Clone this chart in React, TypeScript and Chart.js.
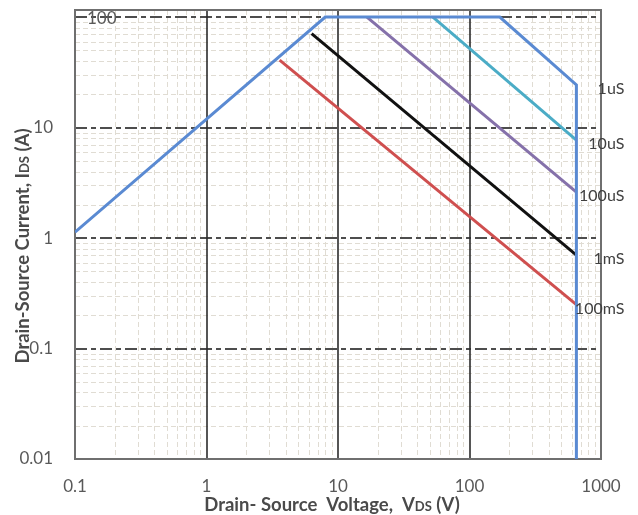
import React, { useEffect, useRef } from 'react';
import { Chart, registerables } from 'chart.js';
Chart.register(...registerables);

// Tick labels
const xTickLabels = [0.1, 1, 10, 100, 1000];
const yTickLabels = [0.01, 0.1, 1, 10, 100];

// SOA outline (1uS)
const soaV = [0.1, 8, 170, 650, 650];
const soaI = [1.13, 100, 100, 24.3, 0.01];
// 10uS
const us10V = [52.7, 650];
const us10I = [100, 7.7];
// 100uS
const us100V = [16.6, 650];
const us100I = [100, 2.6];
// 1mS
const ms1V = [6.3, 650];
const ms1I = [71, 0.7];
// 100mS
const ms100V = [3.6, 650];
const ms100I = [40.8, 0.25];

const seriesNames = ['1uS', '10uS', '100uS', '1mS', '100mS'];
const seriesColors = ['#5a8ad2', '#4bacc6', '#8571aa', '#111111', '#cf4f4f'];

const X_MIN = 0.1, X_MAX = 1000, Y_MIN = 0.01, Y_MAX = 116;
const FONT = 'Lato, "Open Sans", sans-serif';

const toPts = (xs: number[], ys: number[]) => xs.map((v, i) => ({ x: v, y: ys[i] }));
const isLabel = (v: number, list: number[]) => list.some((l) => Math.abs(Math.log10(v) - Math.log10(l)) < 1e-6);

const gridPlugin = {
  id: 'customGrid',
  beforeDatasetsDraw(chart: any) {
    const { ctx, chartArea: a, scales } = chart;
    const x = scales.x, y = scales.y;
    ctx.save();
    ctx.beginPath();
    ctx.rect(a.left, a.top, a.right - a.left, a.bottom - a.top);
    ctx.clip();
    // minor lines
    ctx.lineWidth = 1;
    ctx.strokeStyle = '#e0dcd3';
    ctx.setLineDash([5, 3]);
    for (let e = -1; e < 3; e++) {
      for (let m = 2; m <= 9; m++) {
        const v = m * Math.pow(10, e);
        const px = Math.round(x.getPixelForValue(v)) + 0.5;
        ctx.beginPath(); ctx.moveTo(px, a.top); ctx.lineTo(px, a.bottom); ctx.stroke();
      }
    }
    for (let e = -2; e < 3; e++) {
      for (let m = 2; m <= 9; m++) {
        const v = m * Math.pow(10, e);
        if (v > Y_MAX) continue;
        const py = Math.round(y.getPixelForValue(v)) + 0.5;
        ctx.beginPath(); ctx.moveTo(a.left, py); ctx.lineTo(a.right, py); ctx.stroke();
      }
    }
    // major horizontal dashed
    ctx.strokeStyle = '#4d4d4d';
    ctx.lineWidth = 2;
    ctx.setLineDash([12, 4, 5, 4]);
    [0.1, 1, 10, 100].forEach((v) => {
      const py = Math.round(y.getPixelForValue(v));
      ctx.beginPath(); ctx.moveTo(a.left, py); ctx.lineTo(a.right, py); ctx.stroke();
    });
    // major vertical solid
    ctx.setLineDash([]);
    ctx.strokeStyle = '#2b2b2b';
    ctx.lineWidth = 1.6;
    [1, 10, 100].forEach((v) => {
      const px = Math.round(x.getPixelForValue(v));
      ctx.beginPath(); ctx.moveTo(px, a.top); ctx.lineTo(px, a.bottom); ctx.stroke();
    });
    ctx.restore();
    // border
    ctx.save();
    ctx.strokeStyle = '#6f6f6f';
    ctx.lineWidth = 2;
    ctx.strokeRect(a.left, a.top, a.right - a.left, a.bottom - a.top);
    ctx.restore();
  },
};

function drawRuns(ctx: CanvasRenderingContext2D, runs: { t: string; f: string }[], cx: number, cy: number) {
  let w = 0;
  runs.forEach((r) => { ctx.font = r.f; w += ctx.measureText(r.t).width; });
  let px = cx - w / 2;
  ctx.textBaseline = 'alphabetic';
  ctx.textAlign = 'left';
  runs.forEach((r) => { ctx.font = r.f; ctx.fillText(r.t, px, cy); px += ctx.measureText(r.t).width; });
}

const labelPlugin = {
  id: 'customLabels',
  afterDatasetsDraw(chart: any) {
    const { ctx, chartArea: a, scales } = chart;
    const x = scales.x, y = scales.y;
    ctx.save();
    // "100" tick label inside plot
    ctx.fillStyle = '#595959';
    ctx.font = `17px ${FONT}`;
    ctx.textAlign = 'left';
    ctx.textBaseline = 'middle';
    ctx.fillText(String(yTickLabels[4]), a.left + 12, y.getPixelForValue(100) + 1);

    // series labels
    const ends = [
      { v: soaV[3], i: soaI[3] },
      { v: us10V[1], i: us10I[1] },
      { v: us100V[1], i: us100I[1] },
      { v: ms1V[1], i: ms1I[1] },
      { v: ms100V[1], i: ms100I[1] },
    ];
    ctx.fillStyle = '#404040';
    ctx.font = `16px ${FONT}`;
    ctx.textAlign = 'right';
    ends.forEach((p, k) => {
      ctx.fillText(seriesNames[k], x.getPixelForValue(p.v) + 48, y.getPixelForValue(p.i) + 4);
    });

    // axis titles
    ctx.fillStyle = '#4a4a4a';
    const big = `bold 18.5px ${FONT}`;
    const small = `bold 13px ${FONT}`;
    drawRuns(ctx, [
      { t: 'Drain- Source  Voltage,  V', f: big },
      { t: 'DS', f: small },
      { t: ' (V)', f: big },
    ], 332, 511);

    ctx.translate(29, 246);
    ctx.rotate(-Math.PI / 2);
    drawRuns(ctx, [
      { t: 'Drain-Source Current, I', f: big },
      { t: 'DS', f: small },
      { t: ' (A)', f: big },
    ], 0, 0);
    ctx.restore();
  },
};

export default function App() {
  const ref = useRef<HTMLCanvasElement>(null);
  useEffect(() => {
    const series = [
      toPts(soaV, soaI),
      toPts(us10V, us10I),
      toPts(us100V, us100I),
      toPts(ms1V, ms1I),
      toPts(ms100V, ms100I),
    ];
    const chart = new Chart(ref.current as HTMLCanvasElement, {
      type: 'scatter',
      data: {
        datasets: series.map((d, k) => ({
          label: seriesNames[k],
          data: d,
          showLine: true,
          borderColor: seriesColors[k],
          backgroundColor: seriesColors[k],
          borderWidth: 3,
          pointRadius: 0,
          tension: 0,
        })),
      },
      options: {
        responsive: false,
        animation: false,
        devicePixelRatio: 1,
        layout: { padding: { top: 10, right: 37, left: 0, bottom: 0 } },
        plugins: { legend: { display: false }, tooltip: { enabled: false } },
        scales: {
          x: {
            type: 'logarithmic',
            min: X_MIN,
            max: X_MAX,
            grid: { display: false, drawTicks: false },
            border: { display: false },
            ticks: {
              autoSkip: false,
              maxRotation: 0,
              padding: 17,
              color: '#595959',
              font: { family: FONT, size: 17 },
              callback: (v: any) => (isLabel(Number(v), xTickLabels) ? String(Number(v)) : ''),
            },
            afterFit: (s: any) => { s.height = 56; s.paddingLeft = 0; s.paddingRight = 0; },
          },
          y: {
            type: 'logarithmic',
            min: Y_MIN,
            max: Y_MAX,
            grid: { display: false, drawTicks: false },
            border: { display: false },
            ticks: {
              autoSkip: false,
              padding: 22,
              color: '#595959',
              font: { family: FONT, size: 17 },
              callback: (v: any) => {
                const n = Number(v);
                if (Math.abs(n - 100) < 1e-6) return '';
                return isLabel(n, yTickLabels) ? String(n) : '';
              },
            },
            afterFit: (s: any) => { s.width = 75; s.paddingTop = 0; s.paddingBottom = 0; },
          },
        },
      },
      plugins: [gridPlugin, labelPlugin],
    });
    return () => chart.destroy();
  }, []);
  return (
    <div style={{ position: 'fixed', left: 0, top: 0, width: 638, height: 515, background: '#fff' }}>
      <canvas ref={ref} width={638} height={515} style={{ display: 'block', width: 638, height: 515 }} />
    </div>
  );
}
